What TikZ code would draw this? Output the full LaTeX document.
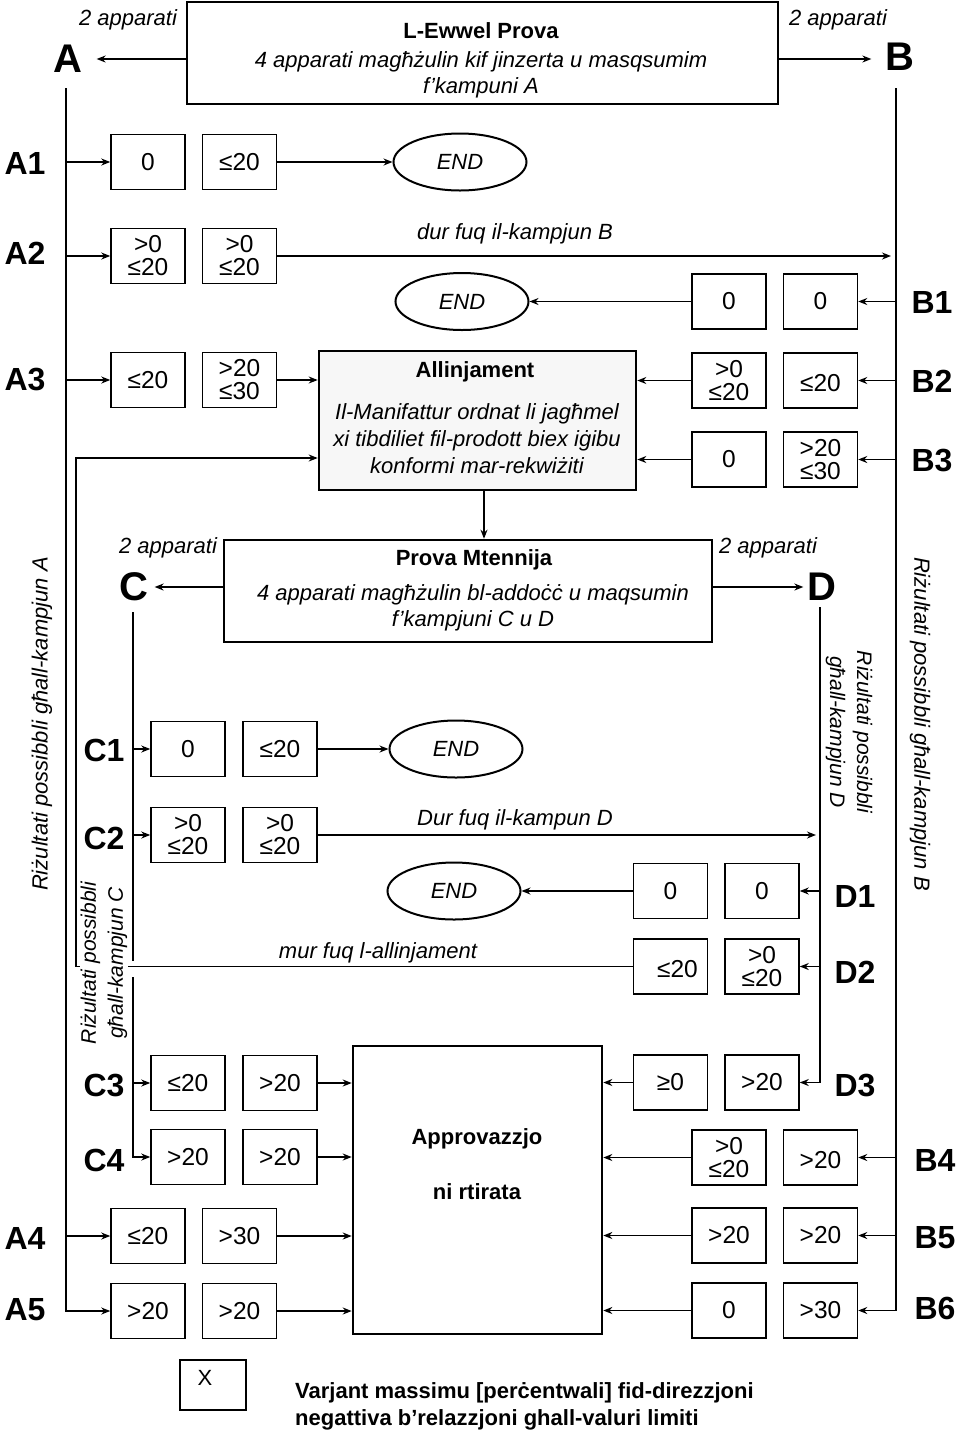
\documentclass[tikz,border=0pt]{standalone}
\usepackage{fontspec}
\setmainfont{Liberation Sans}
\usetikzlibrary{arrows.meta,shapes.geometric}
\begin{document}
\begin{tikzpicture}[x=1pt,y=-1pt,
 every node/.style={font=\fontsize{22}{26}\selectfont, inner sep=0pt},
 vb/.style={draw, line width=1.5pt, minimum width=74pt, minimum height=55pt, align=center, font=\fontsize{24.5}{23}\selectfont},
 lab/.style={font=\bfseries\fontsize{32}{32}\selectfont},
 big/.style={font=\bfseries\fontsize{40}{40}\selectfont},
 endn/.style={draw, ellipse, line width=2pt, minimum width=133pt, minimum height=57pt, font=\itshape\fontsize{22}{26}\selectfont},
 mainbox/.style={draw, line width=2.6pt},
 ln/.style={line width=1.6pt},
 ar/.style={line width=1.6pt, -{Stealth[length=9pt,width=7pt]}},
 it/.style={font=\itshape\fontsize{22}{26}\selectfont},
 tb/.style={font=\bfseries\fontsize{22}{26}\selectfont},
]
\useasboundingbox[fill=white] (0,0) rectangle (960,1433);

% ---------- main boxes ----------
\node[mainbox, minimum width=591pt, minimum height=102pt] (p1) at (482.5,53) {};
\node[tb] (p1t) at (481,31) {L-Ewwel Prova};
\node[it] (p1a) at (481,62) {4 apparati magħżulin kif jinzerta u masqsumim};
\node[it] (p1b) at (481,88) {f’kampuni A};

\node[mainbox, fill=black!3, minimum width=317pt, minimum height=139pt] (al) at (477.5,420.5) {};
\node[tb] (alt) at (475,372) {Allinjament};
\node[it, align=center, font=\itshape\fontsize{22}{27}\selectfont] (ala) at (477,439) {Il-Manifattur ordnat li jagħmel\\xi tibdiliet fil-prodott biex iġibu\\konformi mar-rekwiżiti};

\node[mainbox, minimum width=488pt, minimum height=102pt] (pm) at (468,591) {};
\node[tb] (pmt) at (474,560) {Prova Mtennija};
\node[it] (pma) at (473,595) {4 apparati magħżulin bl-addoċċ u maqsumin};
\node[it] (pmb) at (473,621) {f’kampjuni C u D};

\node[mainbox, minimum width=249pt, minimum height=288pt] (ap) at (477.5,1190) {};
\node[tb] (apa) at (477,1139) {Approvazzjo};
\node[tb] (apb) at (477,1192) {ni rtirata};

% ---------- big labels ----------
\node[big] (A) at (68,59) {A};
\node[big] (B) at (900,57) {B};
\node[big] (C) at (134,587) {C};
\node[big] (D) at (822,587) {D};
\node[it] (nA) at (128,20) {2 apparati};
\node[it] (nB) at (838,20) {2 apparati};
\node[it] (nC) at (168,548) {2 apparati};
\node[it] (nD) at (768,548) {2 apparati};

\draw[ar] (p1.west |- A) -- ([xshift=14pt]A.east);
\draw[ar] (p1.east |- A) -- ([xshift=-14pt]B.west |- A);
\draw[ar] (pm.west |- C) -- ([xshift=6pt]C.east);
\draw[ar] (pm.east |- D) -- ([xshift=-4pt]D.west);
\draw[ar] ([xshift=6.5pt]al.south) -- ([xshift=6.5pt]al.south |- pm.north);

% ---------- row labels ----------
\foreach \n/\x/\y in {A1/25/163, A2/25/253, A3/25/380, A4/25/1238, A5/25/1310,
  C1/104/750, C2/104/838, C3/104/1085, C4/104/1160,
  B1/932/302, B2/932/381, B3/932/460, B4/935/1160, B5/935/1238, B6/935/1308,
  D1/855/896, D2/855/972, D3/855/1085}
  \node[lab] (L\n) at (\x,\y) {\n};

% ---------- END nodes ----------
\node[endn] (e1) at (460,162) {END};
\node[endn] (e2) at (462,301.5) {END};
\node[endn] (e3) at (456,749) {END};
\node[endn] (e4) at (454,891) {END};

% ---------- value boxes ----------
% A side
\node[vb] (A1a) at (148,162) {0};
\node[vb] (A1b) at (239.5,162) {≤20};
\node[vb] (A2a) at (148,256) {>0\\≤20};
\node[vb] (A2b) at (239.5,256) {>0\\≤20};
\node[vb] (A3a) at (148,380) {≤20};
\node[vb] (A3b) at (239.5,380) {>20\\≤30};
\node[vb] (A4a) at (148,1236) {≤20};
\node[vb] (A4b) at (239.5,1236) {>30};
\node[vb] (A5a) at (148,1311) {>20};
\node[vb] (A5b) at (239.5,1311) {>20};
% C side
\node[vb] (C1a) at (188,749) {0};
\node[vb] (C1b) at (280,749) {≤20};
\node[vb] (C2a) at (188,835) {>0\\≤20};
\node[vb] (C2b) at (280,835) {>0\\≤20};
\node[vb] (C3a) at (188,1083) {≤20};
\node[vb] (C3b) at (280,1083) {>20};
\node[vb] (C4a) at (188,1157) {>20};
\node[vb] (C4b) at (280,1157) {>20};
% B side
\node[vb] (B1a) at (729,301.5) {0};
\node[vb] (B1b) at (820.5,301.5) {0};
\node[vb] (B2a) at (729,380.5) {>0\\≤20};
\node[vb] (B2b) at (820.5,380.5) {\\≤20};
\node[vb] (B3a) at (729,459.5) {0};
\node[vb] (B3b) at (820.5,459.5) {>20\\≤30};
\node[vb] (B4a) at (729,1157.5) {>0\\≤20};
\node[vb] (B4b) at (820.5,1157.5) {\\>20};
\node[vb] (B5a) at (729,1235.5) {>20};
\node[vb] (B5b) at (820.5,1235.5) {>20};
\node[vb] (B6a) at (729,1310.5) {0};
\node[vb] (B6b) at (820.5,1310.5) {>30};
% D side
\node[vb] (D1a) at (670.5,891) {0};
\node[vb] (D1b) at (762,891) {0};
\node[vb] (D2a) at (670.5,966.5) {\\\hspace*{14pt}≤20};
\node[vb] (D2b) at (762,966.5) {>0\\≤20};
\node[vb] (D3a) at (670.5,1082.5) {≥0};
\node[vb] (D3b) at (762,1082.5) {>20};

% ---------- trunk lines ----------
\coordinate (a0) at (66,88);
\coordinate (b0) at (896,88);
\coordinate (c0) at (133,612);
\coordinate (c1) at (133,961);
\coordinate (c2) at (133,977);
\coordinate (d0) at (820,607);
\coordinate (r0) at (76,458);

\draw[ar] (a0) |- (A5a.west);
\draw[ar] (b0) |- (B6b.east);
\draw[ln] (c0) -- (c1);
\draw[ar] (c2) |- (C4a.west);
\draw[ar] (d0) |- (D3b.east);

% A branches
\draw[ar] (a0 |- A1a) -- (A1a.west);
\draw[ar] (a0 |- A2a) -- (A2a.west);
\draw[ar] (a0 |- A3a) -- (A3a.west);
\draw[ar] (a0 |- A4a) -- (A4a.west);
\draw[ar] (A1b.east) -- (e1.west);
\draw[ar] (A2b.east) -- ([xshift=-5pt]b0 |- A2b);
\draw[ar] (A3b.east) -- (al.west |- A3b);
\draw[ar] (A4b.east) -- (ap.west |- A4b);
\draw[ar] (A5b.east) -- (ap.west |- A5b);
\node[it] (t1) at (515,234) {dur fuq il-kampjun B};

% B branches
\draw[ar] (b0 |- B1b) -- (B1b.east);
\draw[ar] (b0 |- B2b) -- (B2b.east);
\draw[ar] (b0 |- B3b) -- (B3b.east);
\draw[ar] (b0 |- B4b) -- (B4b.east);
\draw[ar] (b0 |- B5b) -- (B5b.east);
\draw[ar] (B1a.west) -- (e2.east);
\draw[ar] (B2a.west) -- (al.east |- B2a);
\draw[ar] (B3a.west) -- (al.east |- B3a);
\draw[ar] (B4a.west) -- (ap.east |- B4a);
\draw[ar] (B5a.west) -- (ap.east |- B5a);
\draw[ar] (B6a.west) -- (ap.east |- B6a);

% C branches
\draw[ar] (c0 |- C1a) -- (C1a.west);
\draw[ar] (c0 |- C2a) -- (C2a.west);
\draw[ar] (c0 |- C3a) -- (C3a.west);
\draw[ar] (C1b.east) -- (e3.west);
\draw[ar] (C2b.east) -- ([xshift=-4pt]d0 |- C2b);
\draw[ar] (C3b.east) -- (ap.west |- C3b);
\draw[ar] (C4b.east) -- (ap.west |- C4b);
\node[it] (t2) at (515,820) {Dur fuq il-kampun D};

% D branches
\draw[ar] (d0 |- D1b) -- (D1b.east);
\draw[ar] (d0 |- D2b) -- (D2b.east);
\draw[ar] (D1a.west) -- (e4.east);
\draw[ar] (D3a.west) -- (ap.east |- D3a);

% return path to Allinjament
\draw[ar] (D2a.west) -| (r0) -- (al.west |- r0);
\node[it] (t3) at (378,953) {mur fuq l-allinjament};

% ---------- rotated captions ----------
\node[it, rotate=90] (ra) at (42,724) {Riżultati possibbli għall-kampjun A};
\node[it, rotate=-90] (rb) at (920,724) {Riżultati possibbli għall-kampjun B};
\node[it, rotate=90, align=center, fill=white, inner sep=0.5pt, font=\itshape\fontsize{21}{27}\selectfont] (rc) at (104,963) {Riżultati possibbli\\għall-kampjun C};
\node[it, rotate=-90, align=center, font=\itshape\fontsize{21}{27}\selectfont] (rd) at (849,732) {Riżultati possibbli\\għall-kampjun D};

% ---------- legend ----------
\node[draw, line width=1.5pt, minimum width=66pt, minimum height=50pt] (xb) at (213,1385) {};
\node (xt) at (205,1378) {X};
\node[font=\bfseries\fontsize{22}{27}\selectfont, align=left, anchor=west] (leg) at (295,1406) {Varjant massimu [perċentwali] fid-direzzjoni\\negattiva b’relazzjoni ghall-valuri limiti};
\end{tikzpicture}
\end{document}
